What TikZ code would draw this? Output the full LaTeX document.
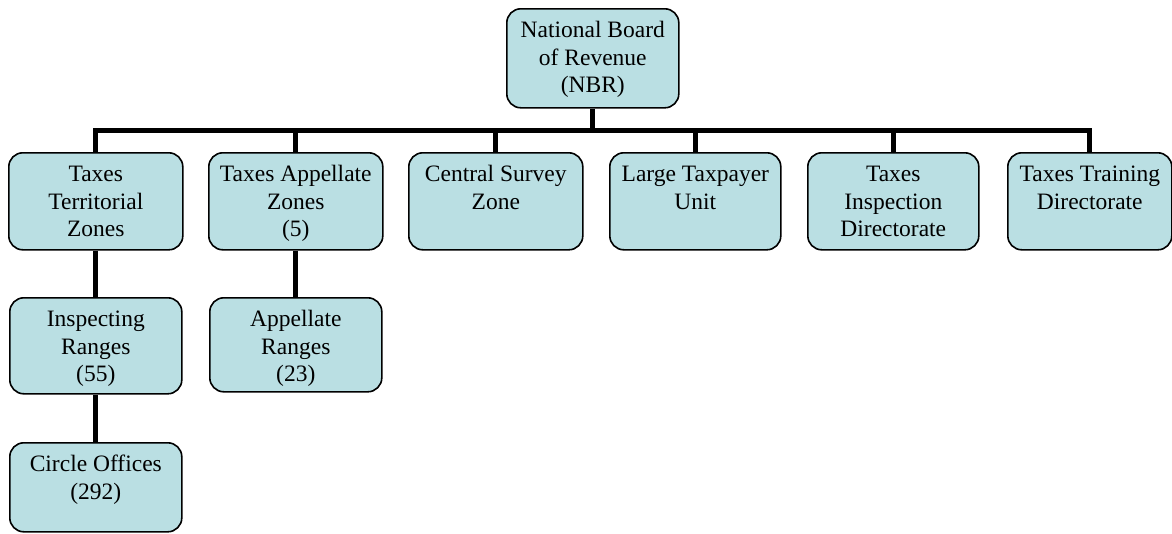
\documentclass[tikz,border=0pt]{standalone}
\usepackage{fontspec}
\setmainfont{Liberation Serif}
\definecolor{boxfill}{RGB}{186,223,227}
\newcommand{\bt}[3]{\parbox[t][#2][t]{#1}{\centering\rule{0pt}{29pt}#3}}
\tikzset{
  orgbox/.style={draw=black, line width=1.6pt, fill=boxfill, rounded corners=14pt,
    inner sep=0pt, anchor=north west, font=\fontsize{23.5pt}{27.5pt}\selectfont},
  conn/.style={draw=black, line width=5pt}
}
\begin{document}
\begin{tikzpicture}[x=1pt,y=-1pt]
\useasboundingbox[fill=white] (0,0) rectangle (1172,533);
\node[orgbox] (nbr) at (506,8) {\bt{172pt}{99pt}{National Board\\of Revenue\\(NBR)}};
\node[orgbox] (ttz) at (8,152) {\bt{174pt}{97pt}{Taxes\\Territorial\\Zones}};
\node[orgbox] (tap) at (208,152) {\bt{174pt}{97pt}{Taxes Appellate\\Zones\\(5)}};
\node[orgbox] (csz) at (408,152) {\bt{174pt}{97pt}{Central Survey\\Zone}};
\node[orgbox] (ltu) at (609,152) {\bt{171pt}{97pt}{Large Taxpayer\\Unit}};
\node[orgbox] (tid) at (807,152) {\bt{171pt}{97pt}{Taxes\\Inspection\\Directorate}};
\node[orgbox] (ttd) at (1007,152) {\bt{164pt}{97pt}{Taxes Training\\Directorate}};
\node[orgbox] (ir) at (9,297) {\bt{172pt}{96pt}{Inspecting\\Ranges\\(55)}};
\node[orgbox] (ar) at (209,297) {\bt{172pt}{94pt}{Appellate\\Ranges\\(23)}};
\node[orgbox] (co) at (9,442) {\bt{172pt}{89pt}{Circle Offices\\(292)}};
\coordinate (bus) at (592,130);
\draw[conn] (ttz.north) |- (bus) -| (ttd.north);
\draw[conn] (nbr.south) -- (nbr.south |- bus);
\draw[conn] (tap.north) -- (tap.north |- bus);
\draw[conn] (csz.north) -- (csz.north |- bus);
\draw[conn] (ltu.north) -- (ltu.north |- bus);
\draw[conn] (tid.north) -- (tid.north |- bus);
\draw[conn] (ttz.south) -- (ir.north);
\draw[conn] (ir.south) -- (co.north);
\draw[conn] (tap.south) -- (ar.north);
\end{tikzpicture}
\end{document}
